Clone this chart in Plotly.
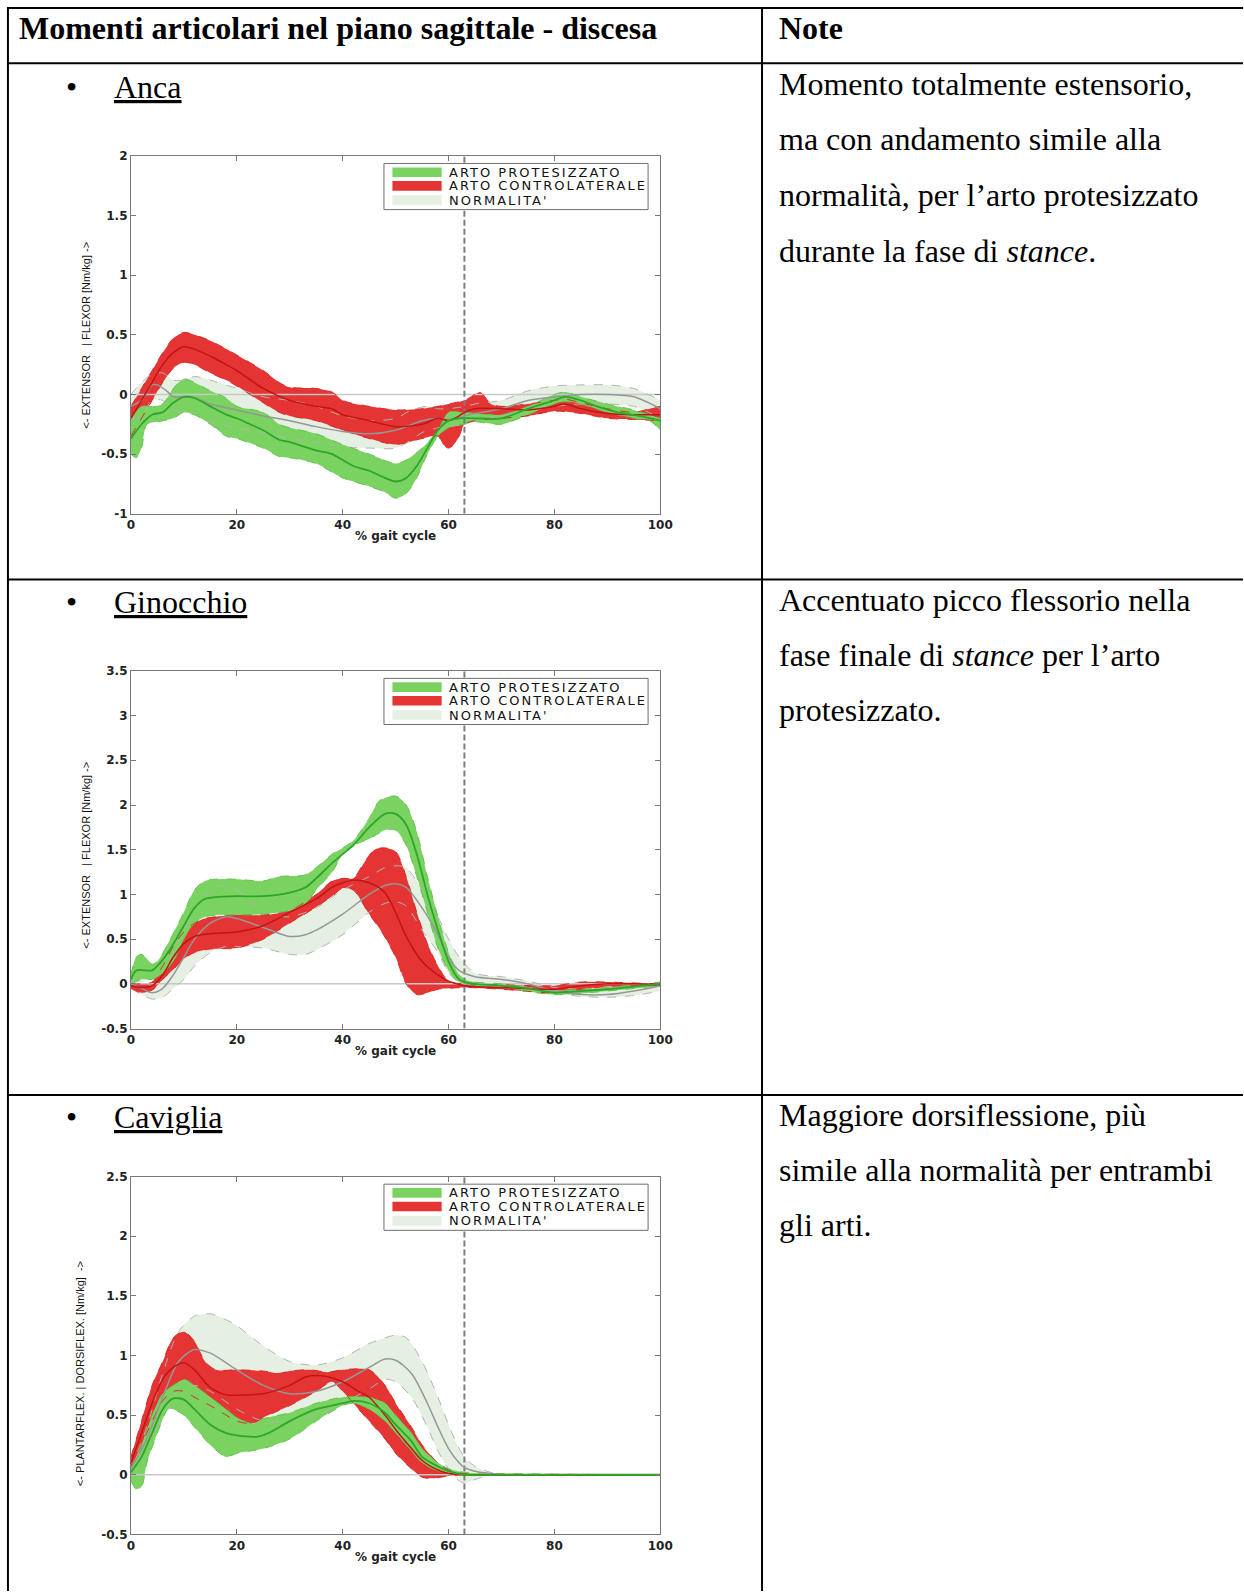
import plotly.graph_objects as go

# ---------------------------------------------------------------------------
# Joint moments in the sagittal plane (stair descent), mean +/- SD bands.
# Each curve is a list of (% gait cycle, moment [Nm/kg]) knots.
# ---------------------------------------------------------------------------

TOE_OFF = 63  # % gait cycle

# Hip (Anca)
hip_pros_mean = [(0, -0.37), (2, -0.25), (4, -0.17), (6, -0.15), (8, -0.07), (10, -0.02), (12, -0.03),
                 (15, -0.1), (18, -0.17), (20, -0.2), (22, -0.24), (25, -0.3), (28, -0.38), (30, -0.4),
                 (35, -0.47), (38, -0.5), (40, -0.55), (42, -0.6), (45, -0.64), (48, -0.7), (50, -0.73),
                 (52, -0.7), (54, -0.6), (56, -0.45), (58, -0.3), (60, -0.22), (62, -0.2), (65, -0.2),
                 (70, -0.2), (75, -0.12), (80, -0.05), (82, -0.02), (85, -0.05), (88, -0.1), (92, -0.15),
                 (96, -0.18), (100, -0.22)]
hip_pros_hi = [(0, -0.2), (2, -0.1), (4, -0.1), (6, -0.08), (8, 0.05), (10, 0.13), (12, 0.1), (15, 0.03),
               (18, -0.03), (20, -0.1), (25, -0.15), (28, -0.25), (30, -0.28), (35, -0.33), (40, -0.42),
               (45, -0.5), (50, -0.58), (52, -0.55), (55, -0.45), (58, -0.3), (60, -0.15), (63, -0.15),
               (65, -0.16), (70, -0.17), (75, -0.1), (80, 0.0), (82, 0.02), (85, -0.02), (90, -0.08),
               (95, -0.13), (100, -0.2)]
hip_pros_lo = [(0, -0.5), (1, -0.53), (2, -0.45), (3, -0.25), (5, -0.23), (8, -0.2), (10, -0.15), (12, -0.17),
               (15, -0.25), (18, -0.35), (20, -0.37), (25, -0.45), (28, -0.52), (30, -0.53), (35, -0.58),
               (40, -0.7), (45, -0.77), (48, -0.82), (50, -0.87), (52, -0.83), (54, -0.7), (56, -0.5),
               (58, -0.35), (60, -0.28), (63, -0.25), (65, -0.23), (70, -0.25), (75, -0.17), (80, -0.08),
               (82, -0.06), (85, -0.08), (90, -0.15), (95, -0.2), (98, -0.22), (100, -0.3)]
hip_contra_mean = [(0, -0.2), (2, -0.05), (4, 0.1), (6, 0.25), (8, 0.35), (10, 0.4), (12, 0.38), (15, 0.32),
                   (18, 0.25), (20, 0.2), (25, 0.05), (30, -0.05), (35, -0.1), (38, -0.12), (40, -0.17),
                   (45, -0.22), (50, -0.27), (55, -0.25), (58, -0.2), (60, -0.22), (62, -0.18), (63, -0.15),
                   (65, -0.12), (70, -0.12), (75, -0.13), (80, -0.1), (82, -0.08), (85, -0.12), (90, -0.16),
                   (95, -0.17), (100, -0.17)]
hip_contra_hi = [(0, -0.1), (2, 0.05), (4, 0.2), (6, 0.35), (8, 0.47), (10, 0.52), (12, 0.5), (15, 0.45),
                 (18, 0.38), (20, 0.33), (25, 0.2), (28, 0.1), (30, 0.06), (35, 0.05), (38, 0.02), (40, -0.05),
                 (45, -0.1), (50, -0.13), (55, -0.12), (58, -0.1), (60, -0.08), (63, -0.05), (65, 0.0),
                 (66, 0.02), (68, -0.08), (70, -0.1), (75, -0.08), (80, -0.05), (82, -0.04), (85, -0.07),
                 (90, -0.12), (95, -0.15), (98, -0.12), (100, -0.1)]
hip_contra_lo = [(0, -0.35), (2, -0.2), (4, -0.05), (6, 0.1), (8, 0.22), (10, 0.27), (12, 0.25), (15, 0.18),
                 (18, 0.12), (20, 0.07), (25, -0.07), (28, -0.15), (30, -0.18), (35, -0.22), (40, -0.3),
                 (45, -0.37), (50, -0.42), (55, -0.37), (58, -0.35), (59, -0.42), (60, -0.45), (61, -0.42),
                 (62, -0.35), (63, -0.25), (65, -0.22), (70, -0.2), (75, -0.18), (80, -0.14), (85, -0.16),
                 (90, -0.2), (95, -0.21), (100, -0.22)]
hip_norm_mean = [(0, -0.1), (2, -0.05), (4, 0.08), (5, 0.08), (7, 0.02), (8, -0.02), (10, -0.02), (12, -0.03),
                 (15, -0.08), (20, -0.13), (25, -0.18), (30, -0.22), (35, -0.27), (40, -0.31), (45, -0.33),
                 (50, -0.3), (55, -0.22), (58, -0.2), (60, -0.21), (63, -0.18), (65, -0.16), (70, -0.12),
                 (75, -0.05), (80, -0.02), (85, 0.0), (90, 0.0), (95, -0.02), (100, -0.12)]
hip_norm_hi = [(0, 0.0), (2, 0.1), (4, 0.17), (6, 0.18), (8, 0.12), (10, 0.12), (12, 0.15), (15, 0.12),
               (20, 0.05), (25, -0.02), (30, -0.05), (35, -0.1), (40, -0.18), (45, -0.22), (50, -0.2),
               (53, -0.13), (56, -0.1), (58, -0.12), (60, -0.12), (63, -0.1), (65, -0.08), (70, -0.05),
               (75, 0.03), (80, 0.07), (85, 0.08), (90, 0.08), (95, 0.05), (100, -0.05)]
hip_norm_lo = [(0, -0.2), (2, -0.18), (4, -0.05), (6, -0.05), (8, -0.13), (10, -0.15), (12, -0.17),
               (15, -0.23), (20, -0.28), (25, -0.32), (30, -0.37), (35, -0.4), (40, -0.44), (45, -0.45),
               (50, -0.45), (53, -0.38), (55, -0.32), (58, -0.28), (60, -0.27), (63, -0.25), (65, -0.22),
               (70, -0.18), (75, -0.12), (80, -0.1), (85, -0.08), (90, -0.08), (95, -0.1), (100, -0.2)]

# Knee (Ginocchio)
knee_pros_mean = [(0, 0.05), (1, 0.15), (4, 0.15), (5, 0.2), (7, 0.35), (10, 0.65), (12, 0.85), (14, 0.95),
                  (16, 0.97), (20, 0.98), (25, 0.98), (30, 1.02), (33, 1.08), (35, 1.18), (38, 1.35),
                  (40, 1.45), (42, 1.55), (45, 1.75), (48, 1.9), (50, 1.9), (52, 1.78), (54, 1.45), (56, 1.0),
                  (58, 0.6), (60, 0.25), (62, 0.05), (63, 0.02), (65, 0.0), (70, -0.02), (75, -0.05),
                  (80, -0.1), (85, -0.08), (90, -0.06), (95, -0.03), (100, 0.0)]
knee_pros_hi = [(0, 0.1), (1, 0.3), (2, 0.33), (3, 0.28), (4, 0.22), (5, 0.25), (7, 0.45), (10, 0.8),
                (12, 1.05), (14, 1.15), (16, 1.17), (20, 1.17), (25, 1.15), (28, 1.2), (33, 1.22), (35, 1.3),
                (38, 1.45), (40, 1.52), (42, 1.6), (45, 1.85), (47, 2.05), (50, 2.1), (52, 2.0), (54, 1.7),
                (56, 1.2), (58, 0.75), (60, 0.35), (62, 0.1), (63, 0.05), (65, 0.02), (70, 0.0), (80, -0.07),
                (90, -0.04), (100, 0.02)]
knee_pros_lo = [(0, 0.0), (2, 0.05), (4, 0.05), (6, 0.12), (8, 0.25), (10, 0.5), (12, 0.68), (14, 0.75),
                (16, 0.77), (20, 0.77), (25, 0.78), (30, 0.82), (33, 0.9), (35, 1.05), (38, 1.25), (40, 1.45),
                (42, 1.55), (45, 1.62), (48, 1.72), (50, 1.72), (52, 1.55), (54, 1.2), (56, 0.8), (58, 0.4),
                (60, 0.15), (62, 0.02), (65, -0.02), (70, -0.04), (80, -0.12), (90, -0.08), (100, -0.02)]
knee_contra_mean = [(0, -0.02), (2, -0.04), (4, -0.02), (6, 0.1), (8, 0.3), (10, 0.45), (12, 0.53), (15, 0.56),
                    (20, 0.58), (25, 0.65), (30, 0.8), (35, 0.95), (38, 1.08), (40, 1.13), (42, 1.16),
                    (45, 1.13), (48, 1.02), (50, 0.8), (52, 0.53), (55, 0.25), (58, 0.1), (60, 0.03),
                    (63, -0.02), (70, -0.04), (80, -0.06), (85, -0.02), (90, 0.0), (95, 0.0), (100, -0.01)]
knee_contra_hi = [(0, 0.0), (2, 0.0), (4, 0.02), (6, 0.2), (8, 0.42), (10, 0.58), (12, 0.68), (14, 0.73),
                  (16, 0.75), (20, 0.77), (25, 0.77), (30, 0.82), (35, 1.0), (38, 1.15), (40, 1.18),
                  (42, 1.18), (44, 1.35), (46, 1.5), (48, 1.52), (50, 1.48), (52, 1.2), (54, 0.8), (56, 0.45),
                  (58, 0.2), (60, 0.03), (63, 0.0), (70, -0.01), (80, -0.02), (85, 0.02), (90, 0.02),
                  (95, 0.01), (100, 0.0)]
knee_contra_lo = [(0, -0.05), (2, -0.1), (4, -0.07), (6, 0.05), (8, 0.16), (10, 0.28), (12, 0.35), (15, 0.39),
                  (20, 0.4), (25, 0.5), (30, 0.68), (35, 0.86), (38, 0.98), (40, 1.07), (42, 1.05), (45, 0.78),
                  (47.5, 0.57), (50, 0.3), (52, 0.0), (54, -0.12), (56, -0.1), (58, -0.06), (60, -0.05),
                  (63, -0.04), (70, -0.06), (80, -0.1), (85, -0.06), (90, -0.03), (95, -0.02), (100, -0.02)]
knee_norm_mean = [(0, 0.0), (2, -0.05), (4, -0.1), (6, -0.05), (8, 0.1), (10, 0.3), (12, 0.5), (15, 0.68),
                  (18, 0.75), (20, 0.73), (25, 0.63), (30, 0.53), (33, 0.55), (35, 0.6), (40, 0.78), (45, 1.0),
                  (48, 1.1), (50, 1.12), (52, 1.08), (55, 0.85), (58, 0.55), (60, 0.3), (62, 0.15), (65, 0.08),
                  (70, 0.05), (75, 0.0), (80, -0.08), (85, -0.12), (90, -0.12), (95, -0.08), (100, -0.02)]
knee_norm_hi = [(0, 0.03), (2, 0.03), (4, -0.02), (6, 0.1), (8, 0.35), (10, 0.6), (12, 0.85), (14, 1.0),
                (17, 1.1), (20, 1.05), (22, 0.95), (25, 0.8), (30, 0.75), (35, 0.85), (40, 1.05), (45, 1.2),
                (48, 1.3), (50, 1.32), (52, 1.3), (55, 1.05), (58, 0.75), (60, 0.5), (62, 0.3), (65, 0.12),
                (70, 0.08), (75, 0.03), (80, -0.04), (85, -0.06), (90, -0.06), (95, -0.03), (100, 0.02)]
knee_norm_lo = [(0, -0.05), (2, -0.12), (4, -0.17), (6, -0.15), (8, -0.05), (10, 0.05), (12, 0.2), (15, 0.35),
                (18, 0.42), (20, 0.42), (25, 0.4), (30, 0.33), (33, 0.33), (35, 0.38), (40, 0.55), (45, 0.8),
                (48, 0.9), (50, 0.92), (52, 0.87), (55, 0.6), (58, 0.35), (60, 0.12), (62, 0.02), (65, -0.02),
                (70, 0.0), (75, -0.04), (80, -0.1), (85, -0.14), (90, -0.15), (95, -0.13), (100, -0.08)]

# Ankle (Caviglia)
ankle_pros_mean = [(0, 0.02), (2, 0.15), (4, 0.35), (6, 0.55), (8, 0.64), (10, 0.63), (12, 0.55), (15, 0.42),
                   (18, 0.35), (20, 0.33), (24, 0.32), (26, 0.35), (30, 0.45), (35, 0.55), (40, 0.6), (42, 0.62),
                   (45, 0.6), (48, 0.52), (50, 0.42), (53, 0.28), (55, 0.15), (58, 0.07), (60, 0.03), (63, 0.0),
                   (70, 0.0), (100, 0.0)]
ankle_pros_hi = [(0, 0.05), (2, 0.25), (4, 0.5), (6, 0.68), (8, 0.75), (10, 0.8), (12, 0.75), (15, 0.65),
                 (18, 0.55), (20, 0.48), (23, 0.43), (25, 0.47), (30, 0.52), (35, 0.6), (40, 0.65), (45, 0.65),
                 (48, 0.6), (50, 0.5), (53, 0.35), (55, 0.22), (58, 0.1), (60, 0.05), (63, 0.02), (70, 0.01),
                 (100, 0.0)]
ankle_pros_lo = [(0, -0.05), (1, -0.12), (2, -0.1), (3, 0.1), (5, 0.35), (7, 0.55), (8, 0.55), (10, 0.5),
                 (12, 0.4), (15, 0.25), (18, 0.15), (20, 0.18), (25, 0.22), (30, 0.3), (35, 0.45), (40, 0.58),
                 (42, 0.6), (45, 0.55), (48, 0.45), (50, 0.35), (53, 0.2), (55, 0.1), (58, 0.03), (60, 0.01),
                 (63, 0.0), (100, 0.0)]
ankle_contra_mean = [(0, 0.1), (2, 0.35), (4, 0.6), (6, 0.8), (8, 0.9), (10, 0.94), (12, 0.88), (15, 0.73),
                     (18, 0.67), (22, 0.67), (25, 0.68), (30, 0.75), (33, 0.82), (36, 0.83), (40, 0.78),
                     (43, 0.7), (45, 0.65), (48, 0.5), (50, 0.38), (53, 0.22), (55, 0.12), (58, 0.04), (60, 0.01),
                     (65, 0.0), (100, 0.0)]
ankle_contra_hi = [(0, 0.15), (2, 0.45), (4, 0.75), (6, 0.95), (8, 1.15), (10, 1.2), (12, 1.12), (14, 0.95),
                   (16, 0.88), (20, 0.88), (25, 0.87), (28, 0.85), (30, 0.87), (34, 0.88), (37, 0.86), (40, 0.88),
                   (45, 0.88), (48, 0.75), (50, 0.6), (53, 0.4), (55, 0.25), (58, 0.1), (60, 0.04), (63, 0.01),
                   (100, 0.0)]
ankle_contra_lo = [(0, 0.05), (2, 0.25), (4, 0.45), (6, 0.62), (8, 0.7), (10, 0.7), (12, 0.65), (15, 0.58),
                   (18, 0.5), (20, 0.45), (23, 0.43), (25, 0.48), (30, 0.58), (35, 0.7), (38, 0.78), (40, 0.7),
                   (43, 0.55), (45, 0.45), (48, 0.3), (50, 0.18), (53, 0.05), (55, -0.02), (57, -0.03),
                   (60, -0.01), (63, 0.0), (100, 0.0)]
ankle_norm_mean = [(0, 0.05), (3, 0.3), (6, 0.65), (9, 0.95), (12, 1.05), (15, 1.02), (20, 0.88), (25, 0.75),
                   (30, 0.68), (35, 0.7), (40, 0.78), (45, 0.9), (48, 0.97), (50, 0.96), (53, 0.85), (56, 0.6),
                   (58, 0.4), (60, 0.22), (62, 0.1), (63, 0.06), (65, 0.03), (68, 0.01), (70, 0.0), (100, 0.0)]
ankle_norm_hi = [(0, 0.05), (3, 0.4), (6, 0.85), (9, 1.2), (12, 1.33), (15, 1.35), (18, 1.3), (20, 1.25),
                 (25, 1.08), (30, 0.95), (35, 0.92), (40, 0.98), (45, 1.1), (50, 1.17), (52, 1.15), (55, 0.95),
                 (58, 0.65), (60, 0.42), (62, 0.22), (63, 0.15), (65, 0.07), (68, 0.02), (70, 0.0), (100, 0.0)]
ankle_norm_lo = [(0, 0.0), (3, 0.25), (6, 0.5), (9, 0.7), (12, 0.75), (15, 0.7), (20, 0.55), (25, 0.45),
                 (30, 0.45), (35, 0.5), (40, 0.6), (45, 0.72), (48, 0.8), (50, 0.78), (53, 0.65), (56, 0.4),
                 (58, 0.2), (60, 0.05), (62, -0.05), (63, -0.07), (65, -0.04), (68, 0.0), (70, 0.0), (100, 0.0)]

X_TICKS = [0, 20, 40, 60, 80, 100]
HIP_Y_TICKS = [-1, -0.5, 0, 0.5, 1, 1.5, 2]
KNEE_Y_TICKS = [-0.5, 0, 0.5, 1, 1.5, 2, 2.5, 3, 3.5]
ANKLE_Y_TICKS = [-0.5, 0, 0.5, 1, 1.5, 2, 2.5]

LEGEND_LABELS = ["ARTO PROTESIZZATO", "ARTO CONTROLATERALE", "NORMALITA'"]
YLABEL_EXT_FLEX = "&lt;- EXTENSOR&nbsp;&nbsp;&nbsp;| FLEXOR [Nm/kg] -&gt;"
YLABEL_PLANT_DORS = "&lt;- PLANTARFLEX. | DORSIFLEX.&nbsp;[Nm/kg]&nbsp;&nbsp;-&gt;"
XLABEL = "% gait cycle"

HEADER_LEFT = "Momenti articolari nel piano sagittale - discesa"
HEADER_RIGHT = "Note"
JOINT_NAMES = ["Anca", "Ginocchio", "Caviglia"]
NOTES = [
    ["Momento totalmente estensorio,", "ma con andamento simile alla",
     "normalità, per l’arto protesizzato", "durante la fase di <i>stance</i>."],
    ["Accentuato picco flessorio nella", "fase finale di <i>stance</i> per l’arto", "protesizzato."],
    ["Maggiore dorsiflessione, più", "simile alla normalità per entrambi", "gli arti."],
]

# ---------------------------------------------------------------------------
# Styling / page geometry.  Layout positions are given in page pixels of the
# finished sheet and converted to figure paper coordinates by fx / fy.
# ---------------------------------------------------------------------------
W, H = 1256, 1598
OFFSET = 8
SX, SY = 0.984, 0.992

SERIF = "Liberation Serif, Times New Roman, serif"
SANS = "DejaVu Sans, Arial, sans-serif"
ARIAL = "Liberation Sans, Arial, sans-serif"

GREEN_FILL = "rgb(122,211,96)"
GREEN_EDGE = "rgb(95,195,75)"
GREEN_LINE = "rgb(45,165,45)"
RED_FILL = "rgb(229,52,52)"
RED_EDGE = "rgb(215,40,40)"
RED_LINE = "rgb(195,20,20)"
NORM_FILL = "rgb(229,240,227)"
NORM_EDGE = "rgb(178,180,178)"
NORM_LINE = "rgb(150,150,150)"
AXIS_GREY = "rgb(120,120,120)"


def fx(px):
    return (px / SX - OFFSET) / W


def fy(py):
    return 1 - (py / SY - OFFSET) / H


PLOT_L, PLOT_R = 134.5, 662.5
PLOT_H = 358.0
PLOT_TOPS = [157.0, 672.3, 1178.5]
YLABEL_X = [89.6, 89.6, 83.3]
YLABEL_SHIFT = [0, 5, 18]

panels = [
    dict(pros=(hip_pros_lo, hip_pros_hi, hip_pros_mean),
         contra=(hip_contra_lo, hip_contra_hi, hip_contra_mean),
         norm=(hip_norm_lo, hip_norm_hi, hip_norm_mean),
         yticks=HIP_Y_TICKS, ylabel=YLABEL_EXT_FLEX),
    dict(pros=(knee_pros_lo, knee_pros_hi, knee_pros_mean),
         contra=(knee_contra_lo, knee_contra_hi, knee_contra_mean),
         norm=(knee_norm_lo, knee_norm_hi, knee_norm_mean),
         yticks=KNEE_Y_TICKS, ylabel=YLABEL_EXT_FLEX),
    dict(pros=(ankle_pros_lo, ankle_pros_hi, ankle_pros_mean),
         contra=(ankle_contra_lo, ankle_contra_hi, ankle_contra_mean),
         norm=(ankle_norm_lo, ankle_norm_hi, ankle_norm_mean),
         yticks=ANKLE_Y_TICKS, ylabel=YLABEL_PLANT_DORS),
]

fig = go.Figure()


def xs(pts):
    return [p[0] for p in pts]


def ys(pts):
    return [p[1] for p in pts]


def add_band(lo, hi, fill, xa, ya):
    common = dict(mode="lines", xaxis=xa, yaxis=ya, showlegend=False, hoverinfo="skip")
    fig.add_trace(go.Scatter(x=xs(lo), y=ys(lo), line=dict(width=0, shape="spline", smoothing=0.8), **common))
    fig.add_trace(go.Scatter(x=xs(hi), y=ys(hi), line=dict(width=0, shape="spline", smoothing=0.8),
                             fill="tonexty", fillcolor=fill, **common))


def add_curve(pts, color, width, dash, xa, ya):
    fig.add_trace(go.Scatter(x=xs(pts), y=ys(pts), mode="lines", xaxis=xa, yaxis=ya,
                             line=dict(color=color, width=width, dash=dash, shape="spline", smoothing=0.8),
                             showlegend=False, hoverinfo="skip"))


annotations = []
shapes = []
layout_axes = {}

for i, p in enumerate(panels, start=1):
    xa = "x" if i == 1 else f"x{i}"
    ya = "y" if i == 1 else f"y{i}"
    yt = p["yticks"]
    ymin, ymax = yt[0], yt[-1]

    # bands: normal data first, then contralateral, then prosthetic limb
    add_band(p["norm"][0], p["norm"][1], NORM_FILL, xa, ya)
    add_band(p["contra"][0], p["contra"][1], RED_FILL, xa, ya)
    add_band(p["pros"][0], p["pros"][1], GREEN_FILL, xa, ya)

    # zero reference and toe-off marker
    fig.add_trace(go.Scatter(x=[0, 100], y=[0, 0], mode="lines", xaxis=xa, yaxis=ya,
                             line=dict(color="rgb(200,200,200)", width=1.5), showlegend=False, hoverinfo="skip"))
    fig.add_trace(go.Scatter(x=[TOE_OFF, TOE_OFF], y=[ymin, ymax], mode="lines", xaxis=xa, yaxis=ya,
                             line=dict(color="rgb(125,125,125)", width=2, dash="6px,3px"),
                             showlegend=False, hoverinfo="skip"))

    # band edges (dashed) and mean curves
    add_curve(p["norm"][0], NORM_EDGE, 1, "dash", xa, ya)
    add_curve(p["norm"][1], NORM_EDGE, 1, "dash", xa, ya)
    add_curve(p["contra"][0], RED_EDGE, 1, "dash", xa, ya)
    add_curve(p["contra"][1], RED_EDGE, 1, "dash", xa, ya)
    add_curve(p["pros"][0], GREEN_EDGE, 1, "dash", xa, ya)
    add_curve(p["pros"][1], GREEN_EDGE, 1, "dash", xa, ya)
    add_curve(p["norm"][2], NORM_LINE, 1.5, "solid", xa, ya)
    add_curve(p["contra"][2], RED_LINE, 1.5, "solid", xa, ya)
    add_curve(p["pros"][2], GREEN_LINE, 1.8, "solid", xa, ya)

    top = PLOT_TOPS[i - 1]
    bottom = top + PLOT_H
    tickfont = dict(family=SANS, size=12, color="#222222")
    layout_axes["xaxis" if i == 1 else f"xaxis{i}"] = dict(
        domain=[fx(PLOT_L), fx(PLOT_R)], anchor=ya, range=[0, 100],
        tickvals=X_TICKS, ticktext=[f"<b>{v}</b>" for v in X_TICKS],
        ticks="inside", ticklen=5, tickcolor=AXIS_GREY, tickwidth=1,
        showline=True, linecolor=AXIS_GREY, linewidth=1, mirror="ticks",
        showgrid=False, zeroline=False, tickfont=tickfont, fixedrange=True)
    layout_axes["yaxis" if i == 1 else f"yaxis{i}"] = dict(
        domain=[fy(bottom), fy(top)], anchor=xa, range=[ymin, ymax],
        tickvals=yt, ticktext=[f"<b>{v:g}</b>" for v in yt],
        ticks="inside", ticklen=5, tickcolor=AXIS_GREY, tickwidth=1,
        showline=True, linecolor=AXIS_GREY, linewidth=1, mirror="ticks",
        showgrid=False, zeroline=False, tickfont=tickfont, fixedrange=True)

    # axis titles
    annotations.append(dict(x=fx((PLOT_L + PLOT_R) / 2), y=fy(bottom + 22.5), xref="paper", yref="paper",
                            text=f"<b>{XLABEL}</b>", showarrow=False, xanchor="center", yanchor="middle",
                            font=dict(family=SANS, size=12, color="#222222")))
    annotations.append(dict(x=fx(YLABEL_X[i - 1]), y=fy((top + bottom) / 2 + YLABEL_SHIFT[i - 1]),
                            xref="paper", yref="paper", text=p["ylabel"], textangle=-90, showarrow=False,
                            xanchor="center", yanchor="middle", font=dict(family=ARIAL, size=11, color="#111111")))

    # legend box drawn inside the axes
    xd, yd = f"{xa} domain", f"{ya} domain"
    shapes.append(dict(type="rect", xref=xd, yref=yd, x0=0.478, x1=0.977, y0=0.850, y1=0.979,
                       line=dict(color="rgb(110,110,110)", width=1), fillcolor="white", layer="above"))
    for k, (lab, col) in enumerate(zip(LEGEND_LABELS, [GREEN_FILL, RED_FILL, NORM_FILL])):
        yc = [0.9545, 0.9165, 0.8765][k]
        shapes.append(dict(type="rect", xref=xd, yref=yd, x0=0.494, x1=0.587, y0=yc - 0.0135, y1=yc + 0.0135,
                           line=dict(width=0), fillcolor=col, layer="above"))
        annotations.append(dict(x=0.597, y=yc, xref=xd, yref=yd, showarrow=False, xanchor="left",
                                yanchor="middle",
                                text=f'<span style="letter-spacing:2px">{lab}</span>',
                                font=dict(family=SANS, size=13, color="#111111")))

# ---------------------------------------------------------------------------
# Table frame and text
# ---------------------------------------------------------------------------
LINE = dict(color="black", width=2)
ROW_LINES = [9, 64.3, 581.0, 1096.7]
for yl in ROW_LINES:
    shapes.append(dict(type="line", xref="paper", yref="paper", x0=4.0 / W, x1=1, y0=fy(yl), y1=fy(yl), line=LINE))
# outer left rule close to the edge of the sheet
shapes.append(dict(type="line", xref="paper", yref="paper", x0=4.0 / W, x1=4.0 / W, y0=fy(8), y1=0, line=LINE))
shapes.append(dict(type="line", xref="paper", yref="paper", x0=fx(764), x1=fx(764), y0=fy(8), y1=0, line=LINE))

annotations.append(dict(x=fx(20.5), y=fy(29.2), xref="paper", yref="paper", showarrow=False, xanchor="left",
                        yanchor="middle", text=f"<b>{HEADER_LEFT}</b>", font=dict(family=SERIF, size=32, color="black")))
annotations.append(dict(x=fx(779), y=fy(29.0), xref="paper", yref="paper", showarrow=False, xanchor="left",
                        yanchor="middle", text=f"<b>{HEADER_RIGHT}</b>", font=dict(family=SERIF, size=32, color="black")))

NOTE_CENTERS = [[84.5, 140.5, 196.5, 252.5], [601.2, 656.2, 711.9], [1117.2, 1172.2, 1227.2]]
JOINT_CENTERS = [87.5, 603.2, 1119.2]
for r, lines in enumerate(NOTES):
    for t, yc in zip(lines, NOTE_CENTERS[r]):
        annotations.append(dict(x=fx(779), y=fy(yc), xref="paper", yref="paper", showarrow=False, xanchor="left",
                                yanchor="middle", text=t, font=dict(family=SERIF, size=32, color="black")))
    yc0 = JOINT_CENTERS[r]
    annotations.append(dict(x=fx(75), y=fy(yc0), xref="paper", yref="paper", showarrow=False, xanchor="center",
                            yanchor="middle", text="•", font=dict(family=SERIF, size=32, color="black")))
    annotations.append(dict(x=fx(115.5), y=fy(yc0), xref="paper", yref="paper", showarrow=False, xanchor="left",
                            yanchor="middle", text=f"<u>{JOINT_NAMES[r]}</u>",
                            font=dict(family=SERIF, size=32, color="black")))

fig.update_layout(
    width=W, height=H, autosize=False,
    margin=dict(l=0, r=0, t=0, b=0, pad=0),
    paper_bgcolor="white", plot_bgcolor="white",
    showlegend=False,
    annotations=annotations, shapes=shapes,
    **layout_axes,
)

fig.write_html("out.html")
